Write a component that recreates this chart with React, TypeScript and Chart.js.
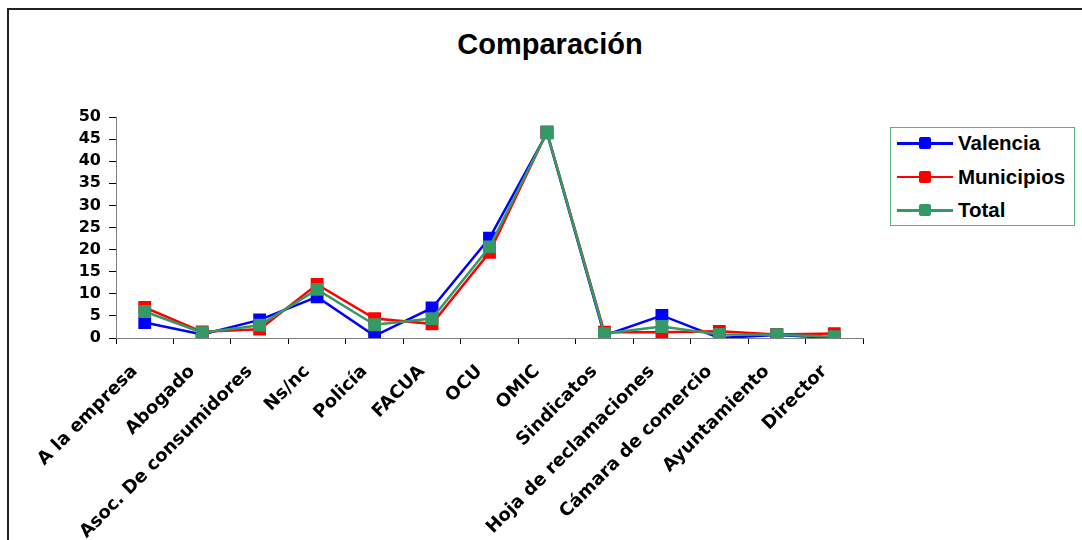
import React, { useEffect, useRef } from 'react';
import { Chart, registerables } from 'chart.js';

Chart.register(...registerables);

const categories = [
  'A la empresa',
  'Abogado',
  'Asoc. De consumidores',
  'Ns/nc',
  'Policía',
  'FACUA',
  'OCU',
  'OMIC',
  'Sindicatos',
  'Hoja de reclamaciones',
  'Cámara de comercio',
  'Ayuntamiento',
  'Director',
];

const valencia = [3.5, 0.8, 4.1, 9.3, 0.5, 6.8, 22.6, 46.4, 0.6, 5.1, 0.0, 0.7, 0.0];
const municipios = [6.9, 1.4, 2.0, 12.1, 4.4, 3.2, 19.4, 46.6, 1.3, 1.3, 1.5, 0.8, 1.0];
const total = [6.0, 1.2, 2.9, 11.0, 3.0, 4.4, 20.6, 46.5, 1.0, 2.6, 0.8, 0.75, 0.3];

const seriesNames = ['Valencia', 'Municipios', 'Total'];
const seriesColors = ['#0000FF', '#FF0000', '#339966'];
const yMin = 0;
const yMax = 50;
const yStep = 5;
const chartTitle = 'Comparación';

const TICK_FONT = { family: "'DejaVu Sans', sans-serif", size: 16, weight: 'bold' as const };
const XTICK_FONT = { family: "'DejaVu Sans', sans-serif", size: 18, weight: 'bold' as const };

export default function App() {
  const ref = useRef<HTMLCanvasElement | null>(null);

  useEffect(() => {
    if (!ref.current) return;
    const seriesData = [valencia, municipios, total];
    const chart = new Chart(ref.current, {
      type: 'line',
      data: {
        labels: categories,
        datasets: seriesNames.map((name, i) => ({
          label: name,
          data: seriesData[i],
          borderColor: seriesColors[i],
          backgroundColor: seriesColors[i],
          pointBackgroundColor: seriesColors[i],
          pointBorderColor: seriesColors[i],
          borderWidth: 2.5,
          pointStyle: 'rect',
          pointRadius: 8,
          pointBorderWidth: 1.5,
          tension: 0,
          fill: false,
          order: seriesNames.length - i,
        })),
      },
      options: {
        responsive: false,
        animation: false,
        devicePixelRatio: 1,
        layout: { padding: { left: 56, top: 117, right: 219, bottom: 0 } },
        plugins: {
          legend: { display: false },
          title: { display: false },
          tooltip: { enabled: false },
        },
        scales: {
          x: {
            offset: true,
            grid: {
              offset: true,
              drawOnChartArea: false,
              drawTicks: true,
              tickLength: 6,
              tickColor: '#000',
              color: '#000',
            },
            border: { display: true, color: '#808080', width: 1 },
            ticks: {
              autoSkip: false,
              maxRotation: 45,
              minRotation: 45,
              font: XTICK_FONT,
              color: '#000',
              padding: 17,
              labelOffset: -10,
            },
            afterFit: (s: any) => {
              s.height = 202;
            },
          },
          y: {
            min: yMin,
            max: yMax,
            ticks: { stepSize: yStep, autoSkip: false, font: TICK_FONT, color: '#000', padding: 8 },
            grid: { drawOnChartArea: false, drawTicks: true, tickLength: 7, tickColor: '#000' },
            border: { display: true, color: '#808080', width: 1 },
            afterFit: (s: any) => {
              s.width = 60;
            },
          },
        },
      },
    });
    return () => chart.destroy();
  }, []);

  return (
    <div
      style={{
        position: 'absolute',
        left: 0,
        top: 0,
        width: 1082,
        height: 540,
        overflow: 'hidden',
        background: '#fff',
      }}
    >
      <div
        style={{
          position: 'absolute',
          left: 7,
          top: 8,
          width: 1200,
          height: 700,
          borderTop: '2px solid #222',
          borderLeft: '2px solid #222',
        }}
      />
      <div
        style={{
          position: 'absolute',
          left: 0,
          top: 30,
          width: 1100,
          textAlign: 'center',
          fontFamily: "Arial, 'Liberation Sans', sans-serif",
          fontWeight: 'bold',
          fontSize: 29,
          lineHeight: '29px',
          color: '#000',
        }}
      >
        {chartTitle}
      </div>
      <canvas
        ref={ref}
        width={1082}
        height={540}
        style={{ position: 'absolute', left: 0, top: 0, width: 1082, height: 540 }}
      />
      <div
        style={{
          position: 'absolute',
          left: 890,
          top: 127,
          width: 183,
          height: 97,
          border: '1px solid #5fae82',
          background: '#fff',
        }}
      >
        {seriesNames.map((name, i) => (
          <div
            key={name}
            style={{ position: 'absolute', left: 0, top: 4 + i * 33.5, height: 22, width: 183 }}
          >
            <div
              style={{
                position: 'absolute',
                left: 6,
                top: 10,
                width: 56,
                height: 2.5,
                background: seriesColors[i],
              }}
            />
            <div
              style={{
                position: 'absolute',
                left: 28,
                top: 5,
                width: 12,
                height: 12,
                borderRadius: 2,
                background: seriesColors[i],
              }}
            />
            <div
              style={{
                position: 'absolute',
                left: 67,
                top: 0,
                lineHeight: '22px',
                fontFamily: "Arial, 'Liberation Sans', sans-serif",
                fontWeight: 'bold',
                fontSize: 20.5,
                color: '#000',
                whiteSpace: 'nowrap',
              }}
            >
              {name}
            </div>
          </div>
        ))}
      </div>
    </div>
  );
}
